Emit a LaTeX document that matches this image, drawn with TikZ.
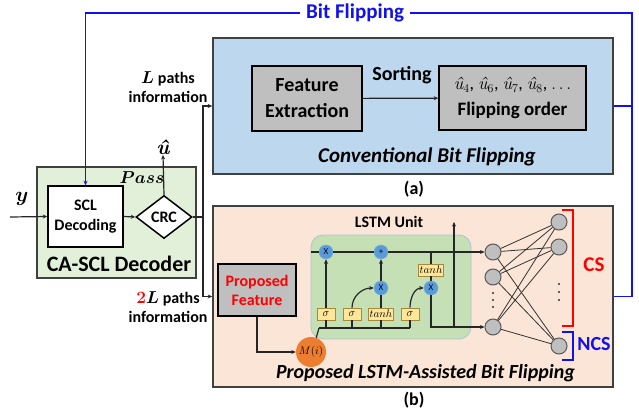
\documentclass[tikz,border=0pt]{standalone}
\usepackage{fontspec}
\setmainfont{Carlito}
\newfontfamily\lmfam{Latin Modern Roman}
\usepackage{amsmath,bm}
\usetikzlibrary{arrows.meta,shapes.geometric}
\definecolor{boxblue}{HTML}{BDD7EE}
\definecolor{boxpeach}{HTML}{FBE5D6}
\definecolor{boxgreen}{HTML}{E2F0D9}
\definecolor{lstmgreen}{HTML}{C5E0B4}
\definecolor{lstmedge}{HTML}{A9C4D6}
\definecolor{gatefill}{HTML}{FFE699}
\definecolor{gateedge}{HTML}{A68A3A}
\definecolor{opblue}{HTML}{5B9BD5}
\definecolor{mcirc}{HTML}{ED7D31}
\definecolor{flipblue}{HTML}{1010F0}
\definecolor{framegray}{HTML}{404040}
\definecolor{fillgray}{HTML}{BFBFBF}
\newcommand{\uh}[1]{{\lmfam\itshape û}$_{#1}$}
\tikzset{
  bigbox/.style={draw=framegray, line width=1.6pt, inner sep=0pt},
  graybox/.style={draw=black, line width=1.6pt, fill=fillgray, inner sep=0pt, align=center},
  conn/.style={line width=1.2pt, draw=black!85},
  fb/.style={line width=1.3pt, draw=flipblue},
  opnode/.style={circle, fill=opblue, draw=opblue!80!white, line width=0.6pt, minimum size=14pt, inner sep=0pt, font=\fontsize{9}{9}\selectfont\color{black!75!blue}},
  gate/.style={rectangle, fill=gatefill, draw=gateedge, line width=0.6pt, minimum height=12pt, inner sep=1pt, font=\fontsize{11}{11}\selectfont},
  neuron/.style={circle, fill=fillgray, draw=black!65, line width=1pt, minimum size=16pt, inner sep=0pt},
  nnline/.style={line width=0.8pt, draw=black!80},
  >={Stealth[length=4.5pt,width=4pt]}
}
\begin{document}
\begin{tikzpicture}[x=1pt,y=-1pt]
\useasboundingbox (0,0) rectangle (639,412);
% main boxes
\node[bigbox, fill=boxblue, minimum width=400pt, minimum height=136pt] (bbox) at (413,106) {};
\node[bigbox, fill=boxpeach, minimum width=400pt, minimum height=181pt] (pbox) at (413,296.5) {};
\node[bigbox, fill=boxgreen, line width=1.3pt, minimum width=159pt, minimum height=111pt] (dec) at (116.5,222.5) {};
\node[font=\fontsize{22}{22}\selectfont\bfseries] (declabel) at (119,264) {CA-SCL Decoder};
\node[draw=black, line width=1.5pt, fill=white, minimum width=75pt, minimum height=61pt, align=center, inner sep=0pt,
      font=\fontsize{16}{20}\selectfont\bfseries] (scl) at (85.5,216.5) {SCL\\Decoding};
\node[diamond, draw=black, line width=1.5pt, fill=white, minimum width=56pt, minimum height=43pt, inner sep=0pt,
      font=\fontsize{16}{16}\selectfont\bfseries] (crc) at (164,217) {CRC};
\node[font=\fontsize{16}{16}\selectfont\boldmath] (pass) at (142,178) {$Pass$};
\node[font=\fontsize{22}{22}\selectfont\boldmath] (ylab) at (22,199) {$y$};
\node[font=\fontsize{21}{21}\selectfont\lmfam\bfseries\itshape, inner sep=0pt, anchor=south] (uhat) at (163,155) {û};
\coordinate (yin) at (10,217);
\coordinate (sp) at (203,217);
% connectors decoder
\draw[conn,->] (yin) -- (scl.west);
\draw[conn,->] (scl.east) -- (crc.west);
\draw[conn,->] (crc.north) -- (uhat.south);
\draw[conn] (crc.east) -- (sp);
\draw[conn,->] (sp) |- (bbox.west);
\draw[conn,->] (sp) |- (pbox.west);
\node[align=center, font=\fontsize{16}{19}\selectfont\bfseries] (lpath) at (168,87) {$\bm{L}$ paths\\information};
\node[align=center, font=\fontsize{16}{19}\selectfont\bfseries] (lpath2) at (168,307) {{\color{red}$\bm{2}$}$\bm{L}$ paths\\information};
% conventional
\node[graybox, minimum width=110pt, minimum height=65pt, font=\fontsize{20}{26}\selectfont\bfseries] (feat) at (307,98.5) {Feature\\Extraction};
\node[graybox, minimum width=147pt, minimum height=64pt, font=\fontsize{19}{26}\selectfont\bfseries] (flip) at (512.5,98)
  {\fontsize{18}{18}\selectfont\mdseries\uh{4}, \uh{6}, \uh{7}, \uh{8}, $\ldots$\\Flipping order};
\draw[conn,->] (feat) -- (flip);
\node[font=\fontsize{20}{20}\selectfont\bfseries] (sortlab) at (402,75) {Sorting};
\node[font=\fontsize{21}{21}\selectfont\bfseries\itshape] (convlab) at (427,157) {Conventional Bit Flipping};
\node[font=\fontsize{18}{18}\selectfont\bfseries] (alab) at (414,189) {(a)};
\node[font=\fontsize{18}{18}\selectfont\bfseries] (blab) at (414,400) {(b)};
% proposed
\node[graybox, minimum width=78pt, minimum height=52pt, font=\fontsize{16}{19}\selectfont\bfseries\color{red}] (pf) at (257,290) {Proposed\\Feature};
\node[font=\fontsize{20}{20}\selectfont\bfseries\itshape] (proplab) at (425.5,373) {Proposed LSTM-Assisted Bit Flipping};
\node[font=\fontsize{16}{16}\selectfont\bfseries] (lstmlab) at (389,222) {LSTM Unit};
\draw[fill=lstmgreen, draw=lstmedge, line width=0.8pt, rounded corners=12pt] (311,235) rectangle (471,339);
\node[circle, fill=mcirc, minimum size=30pt, inner sep=0pt, font=\fontsize{11}{11}\selectfont] (M) at (311,352) {$M(i)$};
\draw[conn,->] (pf.south) |- (M.west);
% LSTM internals
\node[opnode] (m1) at (326,252) {X};
\node[opnode] (pl) at (381,252) {+};
\node[opnode] (m2) at (381,288) {X};
\node[opnode] (m3) at (431,288) {X};
\node[gate, minimum width=18pt] (s1) at (326,314) {$\sigma$};
\node[gate, minimum width=18pt] (s2) at (352,314) {$\sigma$};
\node[gate, minimum width=24pt] (t1) at (381,314) {$tanh$};
\node[gate, minimum width=18pt] (s3) at (410,314) {$\sigma$};
\node[gate, minimum width=24pt] (t2) at (431,270) {$tanh$};
% neural net
\node[neuron] (h1) at (493,252) {};
\node[neuron] (h2) at (493,277) {};
\node[neuron] (h3) at (493,327) {};
\node[neuron] (o1) at (559,222) {};
\node[neuron] (o2) at (559,247) {};
\node[neuron] (o3) at (559,346) {};
\foreach \h in {h1,h2,h3}{\foreach \o in {o1,o2,o3}{\draw[nnline] (\h) -- (\o);}}
\foreach \yy in {293,300,307}{\fill[black!80] (493,\yy) circle (1.2pt);}
\foreach \yy in {284,292,300}{\fill[black!80] (559,\yy) circle (1.2pt);}
\coordinate (cin) at (311,252);
\coordinate (ctap) at (431,252);
\coordinate (bus0) at (319,328);
\coordinate (bus1) at (410,328);
\coordinate (hbot) at (454,328);
\coordinate (hout) at (454,222);
\draw[conn] (cin) -- (m1);
\draw[conn] (m1) -- (pl);
\draw[conn,->] (pl) -- (h1);
\draw[conn,->] (s1) -- (m1);
\draw[conn,->] (s2.north) to[out=90,in=180] (m2.west);
\draw[conn] (t1) -- (m2);
\draw[conn,->] (m2) -- (pl);
\draw[conn,->] (s3.north) to[out=90,in=180] (m3.west);
\draw[conn] (ctap) -- (t2.north);
\draw[conn] (t2.south) -- (m3.north);
\draw[conn,->] (m3.south) |- (h3.west);
\draw[conn,->] (hbot) -- (hout);
\draw[conn] (bus0) -- (bus1);
\foreach \g in {s1,s2,t1,s3}{\draw[conn] (\g.south) -- (\g.south |- bus0);}
\draw[conn] (M.70) -- (bus0);
% brackets
\draw[red, line width=1.3pt] (562,210) -- (573,210) -- (573,326) -- (562,326);
\draw[flipblue, line width=1.3pt] (562,332) -- (573,332) -- (573,360) -- (562,360);
\node[font=\fontsize{21}{21}\selectfont\bfseries, text=red] (cslab) at (594,265) {CS};
\node[font=\fontsize{20}{20}\selectfont\bfseries, text=flipblue] (ncslab) at (594,344) {NCS};
% bit flipping feedback
\node[font=\fontsize{21}{21}\selectfont\bfseries, text=flipblue, inner xsep=6pt, inner ysep=0pt] (bflab) at (355,13) {Bit Flipping};
\coordinate (rt) at (632,13);
\coordinate (lt) at (85.5,13);
\draw[fb] (pbox.east) -| (rt) -- (bflab.east);
\draw[fb] (bbox.east) -- (bbox.east -| rt);
\draw[fb,->] (bflab.west) -- (lt) -- (scl.north);
\end{tikzpicture}
\end{document}
